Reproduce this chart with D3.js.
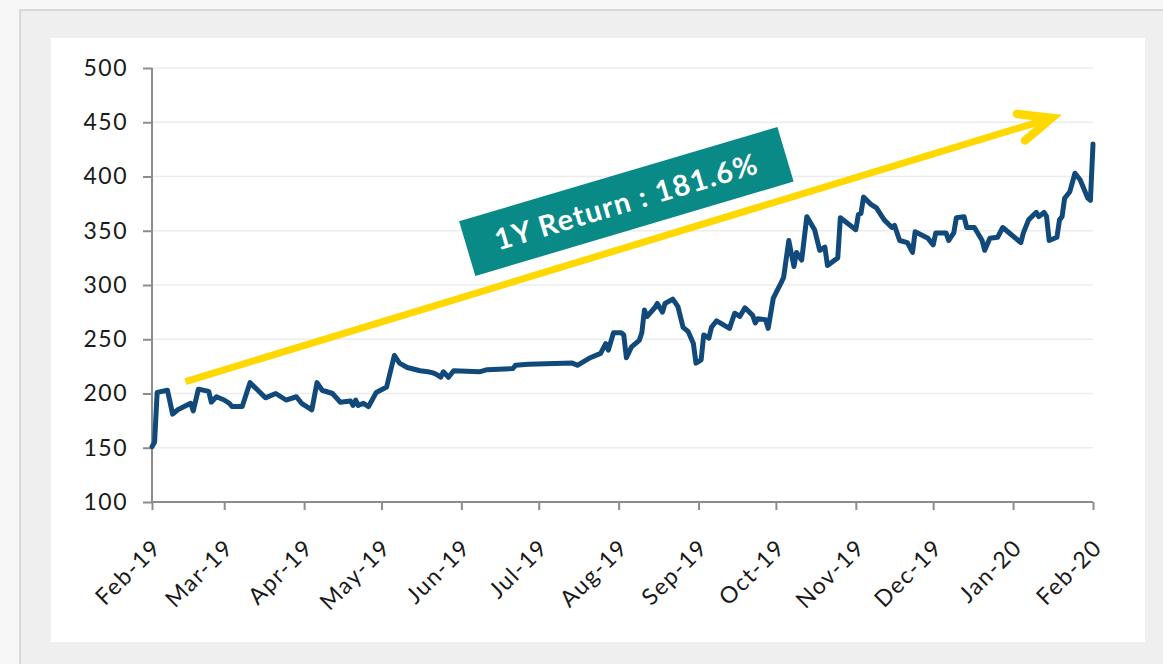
<!DOCTYPE html>
<html><head><meta charset="utf-8">
<script src="https://cdn.jsdelivr.net/npm/d3@7"></script>
<style>
html,body{margin:0;padding:0;background:#f7f7f7;}
svg{display:block;font-family:Lato,"Open Sans",sans-serif;}
</style></head>
<body><svg id="c" width="1163" height="664"></svg>
<script>
const dates = ["2019-02-01","2019-02-02","2019-02-03","2019-02-07","2019-02-09","2019-02-11","2019-02-16","2019-02-17","2019-02-19","2019-02-23","2019-02-24","2019-02-26",
"2019-03-01","2019-03-03","2019-03-04","2019-03-08","2019-03-11","2019-03-17","2019-03-21","2019-03-25","2019-03-29","2019-03-31",
"2019-04-04","2019-04-06","2019-04-08","2019-04-12","2019-04-15","2019-04-19","2019-04-20","2019-04-21","2019-04-22","2019-04-24","2019-04-26","2019-04-29",
"2019-05-03","2019-05-06","2019-05-08","2019-05-11","2019-05-16","2019-05-19","2019-05-21","2019-05-22","2019-05-24","2019-05-25","2019-05-27","2019-05-29",
"2019-06-08","2019-06-11","2019-06-21","2019-06-22","2019-06-27",
"2019-07-14","2019-07-16","2019-07-21","2019-07-25","2019-07-27","2019-07-28","2019-07-30",
"2019-08-02","2019-08-03","2019-08-04","2019-08-06","2019-08-09","2019-08-10","2019-08-11","2019-08-12","2019-08-15","2019-08-16","2019-08-18","2019-08-19","2019-08-22","2019-08-24","2019-08-26","2019-08-28","2019-08-30","2019-08-31",
"2019-09-02","2019-09-03","2019-09-05","2019-09-06","2019-09-08","2019-09-13","2019-09-15","2019-09-17","2019-09-19","2019-09-22","2019-09-23","2019-09-24","2019-09-27","2019-09-28","2019-09-30",
"2019-10-03","2019-10-04","2019-10-06","2019-10-08","2019-10-09","2019-10-11","2019-10-13","2019-10-16","2019-10-18","2019-10-20","2019-10-21","2019-10-25","2019-10-26",
"2019-11-01","2019-11-02","2019-11-03","2019-11-04","2019-11-07","2019-11-09","2019-11-12","2019-11-15","2019-11-16","2019-11-18","2019-11-21","2019-11-23","2019-11-24","2019-11-29",
"2019-12-01","2019-12-02","2019-12-06","2019-12-07","2019-12-09","2019-12-10","2019-12-13","2019-12-14","2019-12-17","2019-12-20","2019-12-21","2019-12-23","2019-12-26","2019-12-28",
"2020-01-04","2020-01-05","2020-01-07","2020-01-10","2020-01-11","2020-01-13","2020-01-14","2020-01-15","2020-01-18","2020-01-19","2020-01-20","2020-01-21","2020-01-23","2020-01-25","2020-01-27","2020-01-30","2020-01-31","2020-02-01"];
const values = [151,155,201,203,181,185,191,184,204,202,192,197,
194,191,188,188,210,196,200,194,197,191,
185,210,203,200,192,193,189,194,189,191,188,201,
206,235,228,224,221,220,219,218,215,220,215,221,
220,222,223,226,227,
228,226,233,237,246,240,256,
256,254,233,243,249,256,277,271,279,283,275,283,287,280,261,257,246,228,
231,254,251,261,267,260,274,271,279,272,265,269,268,260,288,
302,307,341,317,330,323,363,351,332,335,318,325,362,
351,365,366,381,374,371,360,353,355,341,339,330,349,343,
337,348,348,341,348,362,363,353,353,341,332,343,344,353,
339,348,360,367,363,367,363,341,344,360,363,380,386,403,397,380,378,430];
const yTicks = [100,150,200,250,300,350,400,450,500];
const arrowStart = ["2019-02-14", 211];
const arrowEnd = ["2020-01-16", 454];
const labelText = "1Y Return : 181.6%";
const labelPos = ["2019-08-04", 377];

const parse = d3.timeParse("%Y-%m-%d");
const data = dates.map((d,i)=>({date:parse(d), v:values[i]}));
const svg = d3.select("#c");
const FONT = "Lato, 'Open Sans', sans-serif";

// frame
svg.append("rect").attr("x",20).attr("y",10).attr("width",1200).attr("height",700)
  .attr("fill","#efefef").attr("stroke","#d8d8d8").attr("stroke-width",2);
svg.append("rect").attr("x",51).attr("y",38).attr("width",1094).attr("height",604).attr("fill","#fff");

const L=152,R=1093,T=68,B=502;
const x = d3.scaleTime().domain([parse("2019-02-01"),parse("2020-02-01")]).range([L,R]);
const y = d3.scaleLinear().domain([100,500]).range([B,T]);

// grid
svg.append("g").selectAll("line").data(yTicks.slice(1)).join("line")
  .attr("x1",L).attr("x2",R).attr("y1",d=>y(d)).attr("y2",d=>y(d))
  .attr("stroke","#ececec").attr("stroke-width",1.5);

// y axis
const ya = svg.append("g").attr("transform",`translate(${L},0)`)
  .call(d3.axisLeft(y).tickValues(yTicks).tickSize(9).tickPadding(15))
  .attr("font-family",FONT).attr("font-size",23);
ya.select(".domain").attr("stroke","#8c8c8c").attr("stroke-width",2).attr("d",`M0,${T}V${B}`);
ya.selectAll(".tick line").attr("stroke","#8c8c8c").attr("stroke-width",2);
ya.selectAll("text").attr("fill","#1a1a1a").attr("letter-spacing","1.5px");

// x axis
const xa = svg.append("g").attr("transform",`translate(0,${B})`)
  .call(d3.axisBottom(x).ticks(d3.timeMonth.every(1)).tickFormat(d3.timeFormat("%b-%y")).tickSize(8))
  .attr("font-family",FONT).attr("font-size",23);
xa.select(".domain").attr("stroke","#8c8c8c").attr("stroke-width",2).attr("d",`M${L},0H${R}`);
xa.selectAll(".tick line").attr("stroke","#8c8c8c").attr("stroke-width",2);
xa.selectAll("text").attr("fill","#1a1a1a").attr("letter-spacing","1.5px")
  .attr("text-anchor","end").attr("dy",0).attr("y",0)
  .attr("transform","translate(10,47) rotate(-45)");

// line
svg.append("path").datum(data)
  .attr("fill","none").attr("stroke","#114a7a").attr("stroke-width",5)
  .attr("stroke-linejoin","round").attr("stroke-linecap","round")
  .attr("d", d3.line().x(d=>x(d.date)).y(d=>y(d.v)));

// arrow
const ax1=x(parse(arrowStart[0])), ay1=y(arrowStart[1]);
const ax2=x(parse(arrowEnd[0])), ay2=y(arrowEnd[1]);
const ang = Math.atan2(ay2-ay1, ax2-ax1);
const g = svg.append("g").attr("stroke","#ffd800").attr("fill","none");
g.append("line").attr("x1",ax1).attr("y1",ay1).attr("x2",ax2-4*Math.cos(ang)).attr("y2",ay2-4*Math.sin(ang)).attr("stroke-width",7);
const hl=35, ha=23.5*Math.PI/180;
g.append("path").attr("stroke-width",8.5).attr("stroke-linejoin","miter").attr("stroke-linecap","round")
  .attr("d",`M${ax2-hl*Math.cos(ang-ha)},${ay2-hl*Math.sin(ang-ha)}L${ax2},${ay2}L${ax2-hl*Math.cos(ang+ha)},${ay2-hl*Math.sin(ang+ha)}`);

// label
const lx=x(parse(labelPos[0])), ly=y(labelPos[1]);
const deg = ang*180/Math.PI + 0.4;
const lg = svg.append("g").attr("transform",`translate(${lx},${ly}) rotate(${deg})`);
lg.append("rect").attr("x",-166).attr("y",-28.5).attr("width",332).attr("height",57).attr("fill","#0a8a87");
lg.append("text").attr("text-anchor","middle").attr("dy","0.36em").attr("font-size",29)
  .attr("font-weight","bold").attr("fill","#fff").attr("letter-spacing","1.4px").text(labelText);
</script></body></html>
